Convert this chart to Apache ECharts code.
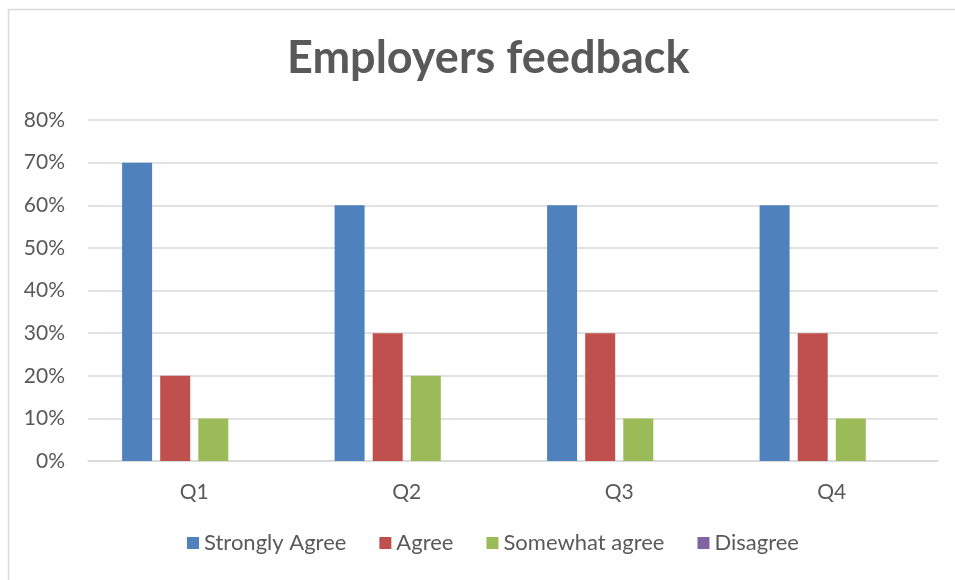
<!DOCTYPE html>
<html><head><meta charset="utf-8">
<script src="https://cdn.jsdelivr.net/npm/echarts@6/dist/echarts.min.js"></script>
<style>html,body{margin:0;padding:0;background:#fff}#c{width:955px;height:580px}</style>
</head><body><div id="c"></div>
<script>
const categories = ['Q1', 'Q2', 'Q3', 'Q4'];
const stronglyAgree = [70, 60, 60, 60];
const agree = [20, 30, 30, 30];
const somewhatAgree = [10, 20, 10, 10];
const disagree = [0, 0, 0, 0];
const seriesNames = ['Strongly Agree', 'Agree', 'Somewhat agree', 'Disagree'];
const colors = ['#4F81BD', '#C0504D', '#9BBB59', '#8064A2'];
const FONT = 'Lato';
const chart = echarts.init(document.getElementById('c'));
const mk = (name, data, i) => ({
  name, type: 'bar', data, barWidth: 30, barGap: '27%',
  itemStyle: { color: colors[i] }
});
chart.setOption({
  animation: false,
  graphic: [{ type: 'rect', left: 6, top: 7, shape: { width: 1000, height: 700 }, style: { fill: 'none', stroke: '#d9d9d9', lineWidth: 1.5 } }],
  title: { text: 'Employers feedback', left: 282, top: 31, textStyle: { fontFamily: FONT, fontWeight: 'bold', fontSize: 45, color: '#595959' } },
  legend: { bottom: 21, left: 182, itemWidth: 12, itemHeight: 12, itemGap: 33, icon: 'rect',
    textStyle: { fontFamily: FONT, fontSize: 22, color: '#595959' }, data: seriesNames },
  grid: { left: 88, right: 17, top: 120, bottom: 119, containLabel: false },
  xAxis: { type: 'category', data: categories,
    axisLine: { lineStyle: { color: '#d9d9d9', width: 1.5 } }, axisTick: { show: false },
    axisLabel: { fontFamily: FONT, fontSize: 21, color: '#595959', margin: 21 } },
  yAxis: { type: 'value', min: 0, max: 80, interval: 10,
    axisLine: { show: false }, axisTick: { show: false },
    splitLine: { lineStyle: { color: '#d9d9d9', width: 1.5 } },
    axisLabel: { fontFamily: FONT, fontSize: 21, color: '#595959', margin: 23, formatter: '{value}%' } },
  series: [mk(seriesNames[0], stronglyAgree, 0), mk(seriesNames[1], agree, 1), mk(seriesNames[2], somewhatAgree, 2), mk(seriesNames[3], disagree, 3)]
});
</script></body></html>
